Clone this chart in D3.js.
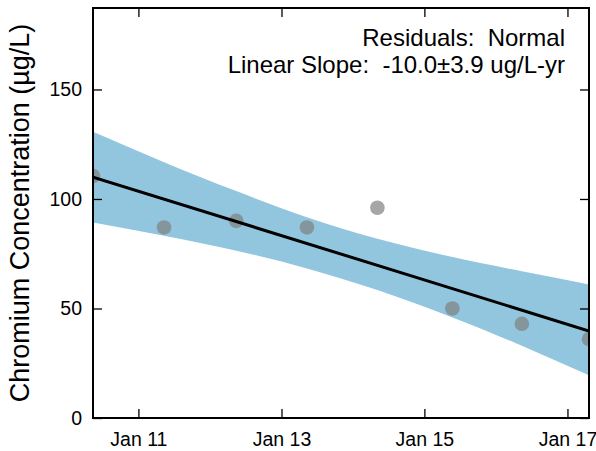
<!DOCTYPE html>
<html>
<head>
<meta charset="utf-8">
<script src="https://cdn.jsdelivr.net/npm/d3@7"></script>
<style>
  html, body { margin: 0; padding: 0; background: #fff; }
  svg { display: block; font-family: "Liberation Sans", Arial, sans-serif; }
</style>
</head>
<body>
<svg id="chart" width="596" height="451"></svg>
<script>
// ---- data ----
const sampleDates = ["2010-05-14", "2011-05-12", "2012-05-15", "2013-05-11",
                     "2014-05-06", "2015-05-24", "2016-05-13", "2017-04-21"];
const concentrations = [110.5, 87, 90, 87, 96, 50, 43, 36];
const bandUpper = [130.7, 116.8, 103.6, 91.7, 81.8, 73.5, 67.0, 61.0];
const bandLower = [89.3, 83.2, 76.4, 68.3, 58.4, 45.9, 33.0, 19.5];
const fitDates = ["2010-05-14", "2017-04-21"];
const fitValues = [110.0, 39.7];
const xTickDates = ["2011-01-01", "2013-01-01", "2015-01-01", "2017-01-01"];
const xTickLabels = ["Jan 11", "Jan 13", "Jan 15", "Jan 17"];
const yTicks = [0, 50, 100, 150];
const yMax = 187.2;
const annotationLines = ["Residuals:  Normal", "Linear Slope:  -10.0\u00b13.9 ug/L-yr"];
const yTitle = "Chromium Concentration (\u00b5g/L)";

(function () {
// ---- layout ----
const parse = d3.utcParse("%Y-%m-%d");
const pL = 93, pR = 589, pT = 8, pB = 418;
const svg = d3.select("#chart");

const x = d3.scaleUtc()
  .domain([parse(sampleDates[0]), parse(sampleDates[sampleDates.length - 1])])
  .range([pL, pR]);
const y = d3.scaleLinear().domain([0, yMax]).range([pB, pT]);

svg.append("defs").append("clipPath").attr("id", "plotclip")
  .append("rect").attr("x", pL).attr("y", pT)
  .attr("width", pR - pL).attr("height", pB - pT);

const plot = svg.append("g").attr("clip-path", "url(#plotclip)");

const band = sampleDates.map((d, i) => ({ date: parse(d), lo: bandLower[i], hi: bandUpper[i] }));
plot.append("path")
  .datum(band)
  .attr("fill", "#92c5de")
  .attr("d", d3.area().curve(d3.curveNatural)
    .x(d => x(d.date)).y0(d => y(d.lo)).y1(d => y(d.hi)));

plot.selectAll("circle.pt")
  .data(sampleDates.map((d, i) => ({ date: parse(d), v: concentrations[i] })))
  .join("circle")
  .attr("class", "pt")
  .attr("cx", d => x(d.date))
  .attr("cy", d => y(d.v))
  .attr("r", 7.3)
  .attr("fill", "#808080")
  .attr("fill-opacity", 0.7);

plot.append("path")
  .datum(fitDates.map((d, i) => ({ date: parse(d), v: fitValues[i] })))
  .attr("fill", "none")
  .attr("stroke", "#000")
  .attr("stroke-width", 3)
  .attr("d", d3.line().x(d => x(d.date)).y(d => y(d.v)));

// ---- axes ----
const tickFmt = (d, i) => xTickLabels[i];
const tickVals = xTickDates.map(parse);

const axBottom = svg.append("g").attr("transform", `translate(0,${pB})`)
  .call(d3.axisBottom(x).tickValues(tickVals).tickFormat(tickFmt).tickSizeInner(-9).tickSizeOuter(0).tickPadding(14));
const axTop = svg.append("g").attr("transform", `translate(0,${pT})`)
  .call(d3.axisTop(x).tickValues(tickVals).tickFormat("").tickSizeInner(-9).tickSizeOuter(0));
const axLeft = svg.append("g").attr("transform", `translate(${pL},0)`)
  .call(d3.axisLeft(y).tickValues(yTicks).tickFormat(d3.format("d")).tickSizeInner(-9).tickSizeOuter(0).tickPadding(11));
const axRight = svg.append("g").attr("transform", `translate(${pR},0)`)
  .call(d3.axisRight(y).tickValues(yTicks).tickFormat("").tickSizeInner(-9).tickSizeOuter(0));

[axBottom, axTop, axLeft, axRight].forEach(g => {
  g.select(".domain").remove();
  g.selectAll(".tick line").attr("stroke", "#000").attr("stroke-width", 1.3);
  g.selectAll(".tick text").attr("fill", "#000").style("font-size", "19.5px")
    .style("font-family", "'Liberation Sans', Arial, sans-serif");
});

svg.append("rect")
  .attr("x", pL).attr("y", pT)
  .attr("width", pR - pL).attr("height", pB - pT)
  .attr("fill", "none").attr("stroke", "#000").attr("stroke-width", 2);

// ---- texts ----
svg.append("text")
  .attr("transform", `translate(29,${(pT + pB) / 2}) rotate(-90)`)
  .attr("text-anchor", "middle")
  .style("font-size", "27px")
  .text(yTitle);

annotationLines.forEach((t, i) => {
  svg.append("text")
    .attr("x", 565).attr("y", 46 + i * 27)
    .attr("text-anchor", "end")
    .style("font-size", "24px")
    .style("white-space", "pre")
    .text(t);
});
})();
</script>
</body>
</html>
